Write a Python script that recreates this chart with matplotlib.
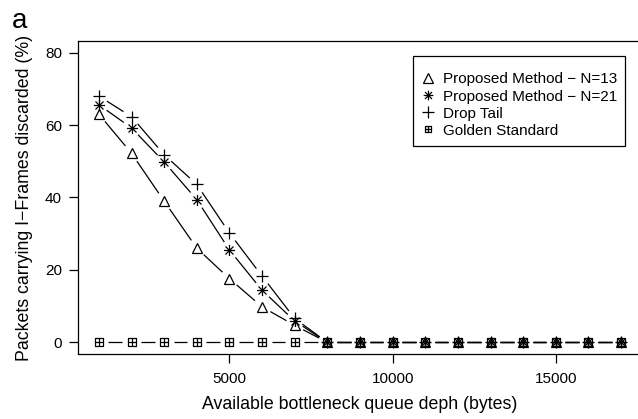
import numpy as np
import matplotlib
matplotlib.use("Agg")
import matplotlib.pyplot as plt
from matplotlib.path import Path

plt.rcParams['font.family'] = ['Liberation Sans', 'DejaVu Sans']

# ---- data ----
queue_depth = [1000, 2000, 3000, 4000, 5000, 6000, 7000, 8000, 9000,
               10000, 11000, 12000, 13000, 14000, 15000, 16000, 17000]
proposed_n13 = [63.0, 52.2, 39.0, 26.0, 17.6, 9.8, 4.7,
                0, 0, 0, 0, 0, 0, 0, 0, 0, 0]
proposed_n21 = [65.6, 59.2, 49.8, 39.4, 25.5, 14.4, 5.9,
                0, 0, 0, 0, 0, 0, 0, 0, 0, 0]
drop_tail = [68.0, 62.3, 51.8, 43.6, 30.2, 18.3, 6.6,
             0, 0, 0, 0, 0, 0, 0, 0, 0, 0]
golden_standard = [0] * len(queue_depth)

labels = ['Proposed Method \u2212 N=13', 'Proposed Method \u2212 N=21',
          'Drop Tail', 'Golden Standard']

# R-like pch markers
ast_path = Path(
    [(-1, 0), (1, 0), (0, -1), (0, 1),
     (-0.72, -0.72), (0.72, 0.72), (-0.72, 0.72), (0.72, -0.72)],
    [Path.MOVETO, Path.LINETO] * 4)
boxplus_path = Path(
    [(-1, -1), (1, -1), (1, 1), (-1, 1), (-1, -1),
     (-1, 0), (1, 0), (0, -1), (0, 1)],
    [Path.MOVETO, Path.LINETO, Path.LINETO, Path.LINETO, Path.CLOSEPOLY,
     Path.MOVETO, Path.LINETO, Path.MOVETO, Path.LINETO])

styles = [
    dict(marker='^', ms=7.5, mfc='none'),
    dict(marker=ast_path, ms=8),
    dict(marker='+', ms=9),
    dict(marker=boxplus_path, ms=5.5, mfc='none'),
]
legend_sizes = [6.5, 7, 8, 5]

fig = plt.figure(figsize=(6.38, 4.19), dpi=100)
ax = fig.add_axes([78 / 638, 65 / 419, 564 / 638, 313 / 419])
ax.set_xlim(360, 17640)
ax.set_ylim(-3.2, 83.2)


def plot_type_b(ax, x, y, gap_px, **mk):
    """lines broken around the points, like R type='b'"""
    pts = ax.transData.transform(np.column_stack([x, y]))
    inv = ax.transData.inverted()
    for p0, p1 in zip(pts[:-1], pts[1:]):
        d = p1 - p0
        L = np.hypot(*d)
        if L <= 2 * gap_px:
            continue
        u = d / L
        seg = inv.transform(np.array([p0 + u * gap_px, p1 - u * gap_px]))
        ax.plot(seg[:, 0], seg[:, 1], color='black', lw=0.9,
                solid_capstyle='butt')
    ax.plot(x, y, ls='none', color='black', mec='black', mew=0.9, **mk)


series = [proposed_n13, proposed_n21, drop_tail, golden_standard]
for vals, st in zip(series, styles):
    plot_type_b(ax, queue_depth, vals, 9.5, **st)

ax.set_xticks([5000, 10000, 15000])
ax.set_yticks([0, 20, 40, 60, 80])
ax.tick_params(direction='out', length=6.5, width=0.9, labelsize=11,
               colors='black')
ax.tick_params(axis='x', pad=6.5)
ax.tick_params(axis='y', pad=5)
for s in ax.spines.values():
    s.set_linewidth(0.9)

ax.set_xlabel('Available bottleneck queue deph (bytes)', fontsize=12.8,
              labelpad=7)
ax.set_ylabel('Packets carrying I\u2212Frames discarded (%)', fontsize=12.8,
              labelpad=9)

handles = []
for st, sz in zip(styles, legend_sizes):
    h = dict(st)
    h['ms'] = sz
    handles.append(plt.Line2D([], [], ls='none', color='black', mec='black',
                              mew=0.9, **h))
leg = ax.legend(handles, labels, loc='upper left',
                bbox_to_anchor=(413 / 638, 1 - 56 / 419),
                bbox_transform=fig.transFigure, borderaxespad=0,
                title=' ', title_fontsize=4,
                fontsize=11, handlelength=0.8, handletextpad=0.6,
                labelspacing=0.2, borderpad=0.55, fancybox=False,
                framealpha=1, edgecolor='black')
leg.get_frame().set_linewidth(0.9)

fig.text(12 / 638, 1 - 28 / 419, 'a', fontsize=20, va='baseline', ha='left')

fig.savefig('out.png', dpi=100)
